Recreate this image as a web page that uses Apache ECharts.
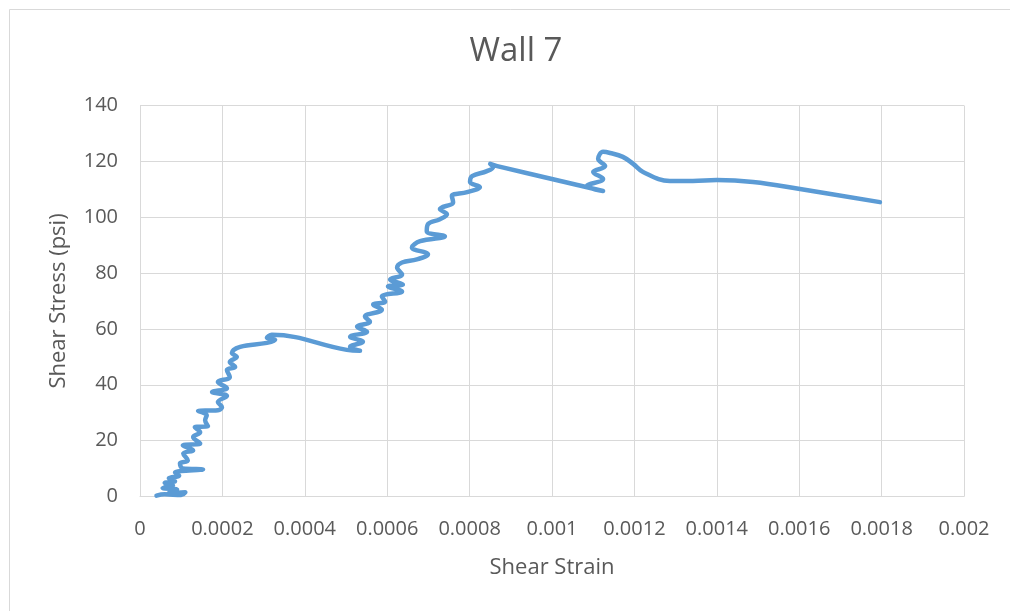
<!DOCTYPE html>
<html>
<head>
<meta charset="utf-8">
<script src="https://cdn.jsdelivr.net/npm/echarts@6/dist/echarts.min.js"></script>
<style>
html,body{margin:0;padding:0;background:#fff;}
#c{width:1010px;height:611px;}
</style>
</head>
<body>
<div id="c"></div>
<script>
const chartTitle = "Wall 7";
const xAxisName = "Shear Strain";
const yAxisName = "Shear Stress (psi)";
const strain = [
 0.000040,0.000060,0.000100,0.000110,0.000070,0.000090,0.000055,0.000080,0.000060,0.000085,
 0.000070,0.000095,0.000085,0.000153,0.000104,0.000097,0.000116,0.000105,0.000129,0.000104,
 0.000146,0.000129,0.000146,0.000133,0.000165,0.000158,0.000162,0.000141,0.000189,0.000199,
 0.000189,0.000211,0.000175,0.000211,0.000189,0.000218,0.000211,0.000231,0.000218,0.000235,
 0.000223,0.000243,0.000308,0.000328,0.000308,0.000320,0.000502,0.000534,0.000510,0.000541,
 0.000510,0.000551,0.000527,0.000558,0.000546,0.000587,0.000566,0.000595,0.000587,0.000636,
 0.000602,0.000638,0.000607,0.000636,0.000624,0.000636,0.000672,0.000699,0.000660,0.000680,
 0.000740,0.000696,0.000699,0.000728,0.000745,0.000728,0.000760,0.000757,0.000794,0.000825,
 0.000801,0.000806,0.000842,0.000857,0.000850,0.000867,0.001124,0.001085,0.001124,0.001100,
 0.001129,0.001112,0.001124,0.001141,0.001172,0.001197,0.001221,0.001286,0.001342,0.001400,
 0.001488,0.001602,0.001796
];
const stress = [
 0.3,0.8,0.5,1.5,1.2,2.5,3.0,4.0,4.8,5.5,
 6.5,7.5,8.6,9.7,10.0,11.9,12.9,15.4,16.5,18.3,
 19.0,21.3,23.0,24.8,25.2,27.3,29.1,30.6,30.9,32.0,
 33.8,36.0,37.4,38.8,41.0,42.8,45.3,46.4,48.2,50.0,
 51.4,53.6,55.0,56.1,56.8,57.9,52.5,52.2,53.6,55.4,
 57.2,59.0,60.8,62.6,64.4,66.9,68.7,69.8,71.6,73.4,
 75.2,75.9,77.7,79.5,82.0,83.8,84.9,86.7,89.2,91.4,
 93.2,95.0,97.5,99.3,101.1,102.9,105.4,107.6,109.0,110.8,
 112.6,114.7,116.5,118.0,119.1,118.3,109.4,111.2,113.7,116.2,
 118.3,120.9,123.4,123.0,121.6,119.1,116.2,113.0,113.0,113.3,
 112.6,110.1,105.4
];
const FONT = "Open Sans";
const TXT = "#595959";
const GRID = "#d9d9d9";
const points = strain.map((x, i) => [x, stress[i]]);
const chart = echarts.init(document.getElementById('c'), null, {renderer: 'canvas'});
chart.setOption({
  animation: false,
  backgroundColor: '#fff',
  title: {
    text: chartTitle,
    left: 511, top: 30, textAlign: 'center',
    textStyle: {fontFamily: FONT, fontSize: 33, fontWeight: 'normal', color: TXT}
  },
  graphic: [{
    type: 'rect', left: 7, top: 7, silent: true,
    shape: {width: 1100, height: 700},
    style: {fill: 'none', stroke: GRID, lineWidth: 1}
  }],
  grid: {left: 140, right: 46, top: 105.5, bottom: 114.5, containLabel: false},
  xAxis: {
    type: 'value', min: 0, max: 0.002, interval: 0.0002,
    name: xAxisName, nameLocation: 'middle', nameGap: 60,
    nameTextStyle: {fontFamily: FONT, fontSize: 22, color: TXT},
    axisLine: {show: true, lineStyle: {color: GRID, width: 1}},
    axisTick: {show: false},
    axisLabel: {fontFamily: FONT, fontSize: 20, color: TXT, margin: 23,
      formatter: v => String(+v.toPrecision(6))},
    splitLine: {show: true, lineStyle: {color: GRID, width: 1}}
  },
  yAxis: {
    type: 'value', min: 0, max: 140, interval: 20,
    name: yAxisName, nameLocation: 'middle', nameGap: 70, nameRotate: 90,
    nameTextStyle: {fontFamily: FONT, fontSize: 22, color: TXT},
    axisLine: {show: false},
    axisTick: {show: false},
    axisLabel: {fontFamily: FONT, fontSize: 20, color: TXT, margin: 22},
    splitLine: {show: true, lineStyle: {color: GRID, width: 1}}
  },
  series: [{
    type: 'line', data: points, smooth: 0.4, showSymbol: false,
    lineStyle: {color: '#5b9bd5', width: 4.5, cap: 'round', join: 'round'},
    itemStyle: {color: '#5b9bd5'}
  }]
});
</script>
</body>
</html>
